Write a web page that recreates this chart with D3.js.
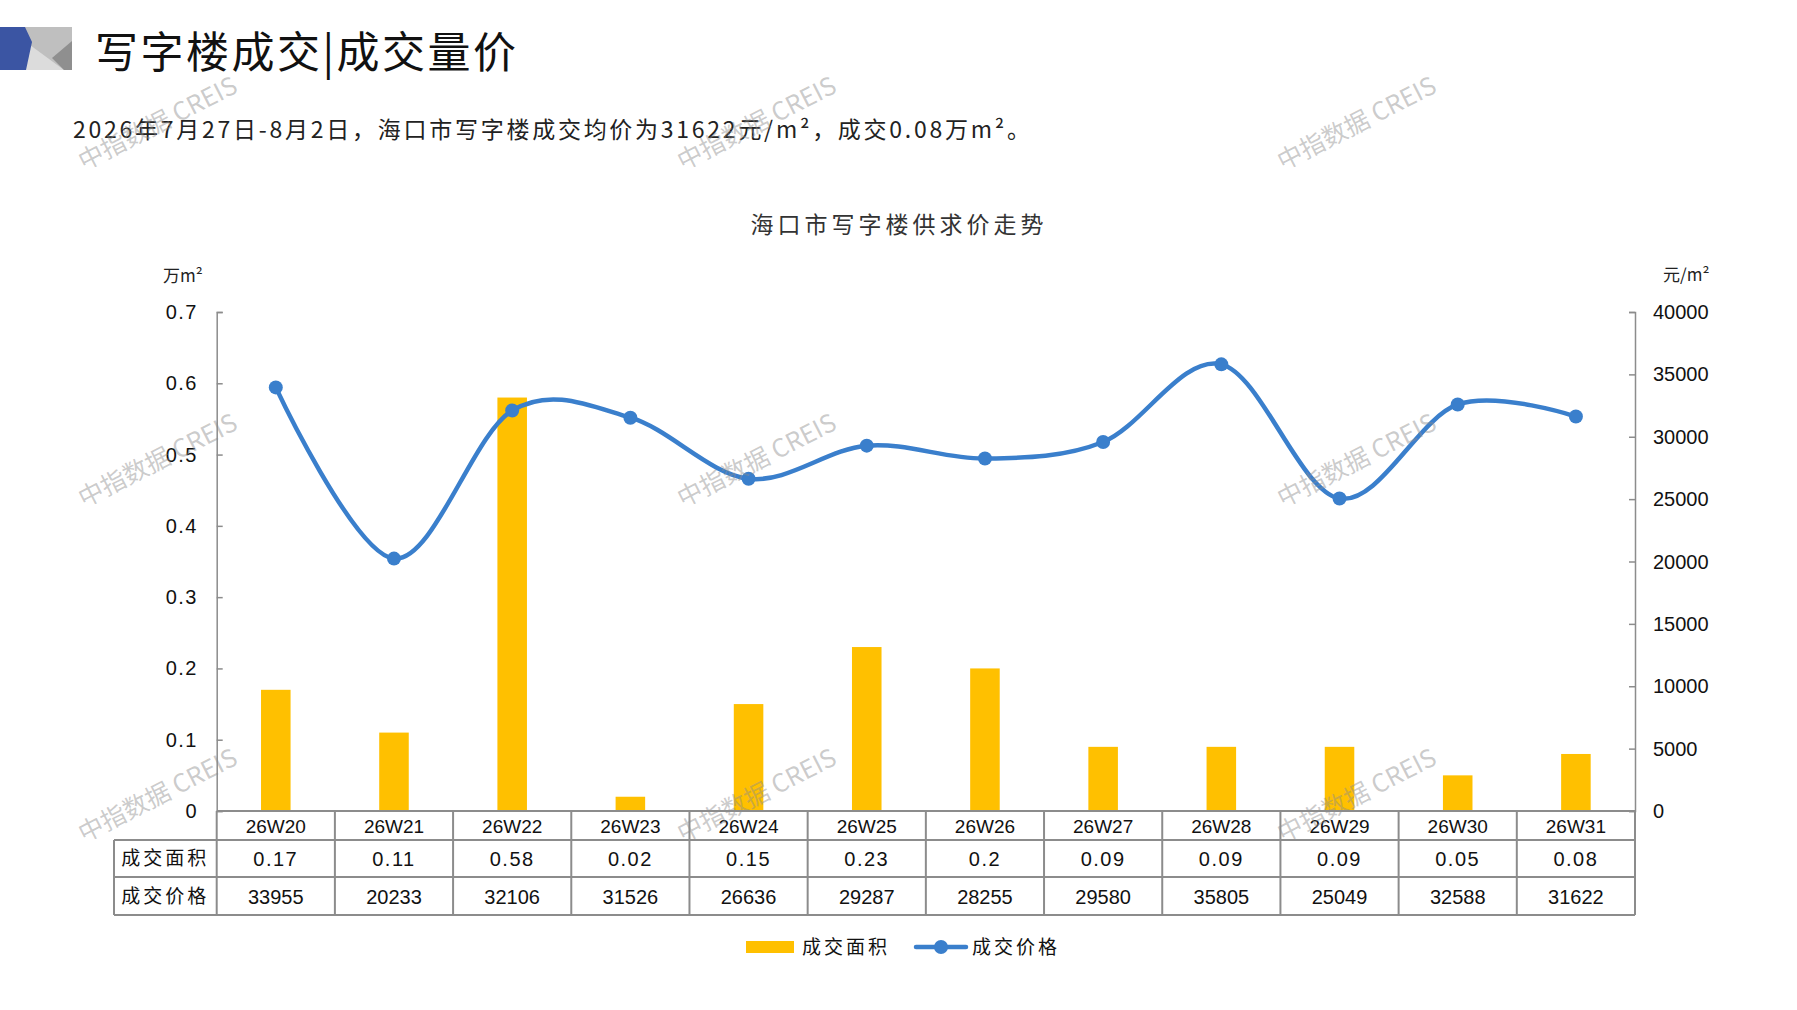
<!DOCTYPE html>
<html lang="zh">
<head>
<meta charset="utf-8">
<title>写字楼成交|成交量价</title>
<script src="https://cdn.jsdelivr.net/npm/d3@7"></script>
<style>
    html, body { margin: 0; padding: 0; background: #fff; }
    #chart { width: 1797px; height: 1010px; }
    text { font-family: "Noto Sans CJK SC", "Liberation Sans", sans-serif; }
    .num { font-family: "Liberation Sans", Arial, sans-serif; }
</style>
</head>
<body>
<div id="chart"></div>
<script>
// chart data
const weeks = ['26W20', '26W21', '26W22', '26W23', '26W24', '26W25', '26W26', '26W27', '26W28', '26W29', '26W30', '26W31'];
const areaValues = [0.17, 0.11, 0.58, 0.02, 0.15, 0.23, 0.2, 0.09, 0.09, 0.09, 0.05, 0.08];
const priceValues = [33955, 20233, 32106, 31526, 26636, 29287, 28255, 29580, 35805, 25049, 32588, 31622];
const areaTicks = [0, 0.1, 0.2, 0.3, 0.4, 0.5, 0.6, 0.7];
const priceTicks = [0, 5000, 10000, 15000, 20000, 25000, 30000, 35000, 40000];
const seriesNames = ['成交面积', '成交价格'];

document.addEventListener('DOMContentLoaded', () => {
    const W = 1797, H = 1010;
    const barColor = '#FFC000';
    const lineColor = '#3A7FCC';
    const gridGrey = '#8c8c8c';

    const svg = d3.select('#chart')
        .append('svg')
        .attr('width', W)
        .attr('height', H)
        .attr('viewBox', `0 0 ${W} ${H}`);

    // page header logo
    const logo = svg.append('g');
    logo.append('rect').attr('x', 0).attr('y', 27).attr('width', 72).attr('height', 43).attr('fill', '#bfbfbf');
    logo.append('polygon').attr('points', '30,45 64,70 25,70').attr('fill', '#dcdcdc');
    logo.append('polygon').attr('points', '52,58 72,41 72,70 64,70').attr('fill', '#8f8f8f');
    logo.append('polygon').attr('points', '0,27 25,27 32,42 26,70 0,70').attr('fill', '#3B55A3');

    svg.append('text')
        .attr('x', 95).attr('y', 68)
        .attr('font-size', 43)
        .attr('letter-spacing', 2.5)
        .attr('fill', '#111')
        .text('写字楼成交|成交量价');

    svg.append('text')
        .attr('x', 73).attr('y', 138)
        .attr('font-size', 23)
        .attr('fill', '#222')
        .attr('textLength', 957)
        .attr('lengthAdjust', 'spacing')
        .text('2026年7月27日-8月2日，海口市写字楼成交均价为31622元/m²，成交0.08万m²。');

    // chart title
    svg.append('text')
        .attr('x', 899).attr('y', 233)
        .attr('text-anchor', 'middle')
        .attr('font-size', 23)
        .attr('letter-spacing', 4)
        .attr('fill', '#333')
        .text('海口市写字楼供求价走势');

    // scales
    const x = d3.scaleBand().domain(weeks).range([216.7, 1635]).padding(0);
    const yArea = d3.scaleLinear().domain([0, 0.7]).range([811, 312]);
    const yPrice = d3.scaleLinear().domain([0, 40000]).range([811, 312]);
    const bw = x.bandwidth();

    // axes
    const leftAxis = svg.append('g')
        .attr('transform', `translate(${x.range()[0]},0)`)
        .call(d3.axisRight(yArea).tickValues(areaTicks).tickSize(6).tickFormat(''));
    leftAxis.selectAll('path, line').attr('stroke', gridGrey).attr('stroke-width', 1.5);

    const rightAxis = svg.append('g')
        .attr('transform', `translate(${x.range()[1]},0)`)
        .call(d3.axisLeft(yPrice).tickValues(priceTicks).tickSize(6).tickFormat(''));
    rightAxis.selectAll('path, line').attr('stroke', gridGrey).attr('stroke-width', 1.5);

    svg.append('g').selectAll('text')
        .data(areaTicks)
        .join('text')
        .attr('class', 'num')
        .attr('x', 198)
        .attr('y', d => yArea(d) + 7)
        .attr('text-anchor', 'end')
        .attr('font-size', 20)
        .attr('letter-spacing', 1.5)
        .attr('fill', '#111')
        .text(d => d3.format('.1~f')(d));

    svg.append('g').selectAll('text')
        .data(priceTicks)
        .join('text')
        .attr('class', 'num')
        .attr('x', 1653)
        .attr('y', d => yPrice(d) + 7)
        .attr('font-size', 20)
        .attr('fill', '#111')
        .text(d => d);

    svg.append('text')
        .attr('x', 163).attr('y', 282)
        .attr('font-size', 17)
        .attr('fill', '#222')
        .text('万m²');

    svg.append('text')
        .attr('x', 1663).attr('y', 281)
        .attr('font-size', 17)
        .attr('fill', '#222')
        .text('元/m²');

    // bars
    svg.append('g').selectAll('rect')
        .data(weeks)
        .join('rect')
        .attr('x', d => x(d) + bw * 0.375)
        .attr('width', bw * 0.25)
        .attr('y', (d, i) => yArea(areaValues[i]))
        .attr('height', (d, i) => yArea(0) - yArea(areaValues[i]))
        .attr('fill', barColor);

    // smoothed price line
    const pts = weeks.map((w, i) => [x(w) + bw / 2, yPrice(priceValues[i])]);
    svg.append('path')
        .datum(pts)
        .attr('d', d3.line().curve(d3.curveCardinal.tension(0)))
        .attr('fill', 'none')
        .attr('stroke', lineColor)
        .attr('stroke-width', 4.5)
        .attr('stroke-linecap', 'round');

    svg.append('g').selectAll('circle')
        .data(pts)
        .join('circle')
        .attr('cx', d => d[0])
        .attr('cy', d => d[1])
        .attr('r', 7)
        .attr('fill', lineColor);

    // data table under the axis
    const table = svg.append('g');
    const rowTop = [811, 840, 877, 915];
    const tableLeft = 114;
    const x0 = x.range()[0], x1 = x.range()[1];

    const hLines = [
        [x0, x1, rowTop[0]],
        [tableLeft, x1, rowTop[1]],
        [tableLeft, x1, rowTop[2]],
        [tableLeft, x1, rowTop[3]]
    ];
    table.selectAll('line.h')
        .data(hLines)
        .join('line')
        .attr('class', 'h')
        .attr('x1', d => d[0]).attr('x2', d => d[1])
        .attr('y1', d => d[2]).attr('y2', d => d[2])
        .attr('stroke', gridGrey).attr('stroke-width', 2);

    const vLines = [[tableLeft, rowTop[1]]]
        .concat(weeks.map(w => [x(w), rowTop[0]]))
        .concat([[x1, rowTop[0]]]);
    table.selectAll('line.v')
        .data(vLines)
        .join('line')
        .attr('class', 'v')
        .attr('x1', d => d[0]).attr('x2', d => d[0])
        .attr('y1', d => d[1]).attr('y2', rowTop[3])
        .attr('stroke', gridGrey).attr('stroke-width', 2);

    table.selectAll('text.cat')
        .data(weeks)
        .join('text')
        .attr('class', 'cat num')
        .attr('x', d => x(d) + bw / 2)
        .attr('y', 833)
        .attr('text-anchor', 'middle')
        .attr('font-size', 19)
        .attr('fill', '#111')
        .text(d => d);

    table.selectAll('text.area')
        .data(areaValues)
        .join('text')
        .attr('class', 'area num')
        .attr('x', (d, i) => x(weeks[i]) + bw / 2)
        .attr('y', 866)
        .attr('text-anchor', 'middle')
        .attr('font-size', 20)
        .attr('letter-spacing', 1.5)
        .attr('fill', '#111')
        .text(d => d);

    table.selectAll('text.price')
        .data(priceValues)
        .join('text')
        .attr('class', 'price num')
        .attr('x', (d, i) => x(weeks[i]) + bw / 2)
        .attr('y', 904)
        .attr('text-anchor', 'middle')
        .attr('font-size', 20)
        .attr('fill', '#111')
        .text(d => d);

    table.selectAll('text.head')
        .data(seriesNames)
        .join('text')
        .attr('class', 'head')
        .attr('x', (tableLeft + x0) / 2)
        .attr('y', (d, i) => i === 0 ? 865 : 903)
        .attr('text-anchor', 'middle')
        .attr('font-size', 19)
        .attr('letter-spacing', 3)
        .attr('fill', '#111')
        .text(d => d);

    // legend
    const legend = svg.append('g');
    legend.append('rect')
        .attr('x', 746).attr('y', 941).attr('width', 48).attr('height', 12)
        .attr('fill', barColor);
    legend.append('text')
        .attr('x', 802).attr('y', 954)
        .attr('font-size', 19).attr('letter-spacing', 3).attr('fill', '#111')
        .text(seriesNames[0]);
    legend.append('line')
        .attr('x1', 916).attr('x2', 966).attr('y1', 947).attr('y2', 947)
        .attr('stroke', lineColor).attr('stroke-width', 4.5).attr('stroke-linecap', 'round');
    legend.append('circle')
        .attr('cx', 941).attr('cy', 947).attr('r', 7).attr('fill', lineColor);
    legend.append('text')
        .attr('x', 972).attr('y', 954)
        .attr('font-size', 19).attr('letter-spacing', 3).attr('fill', '#111')
        .text(seriesNames[1]);

    // watermarks
    const markX = [158, 757, 1357];
    const markY = [124, 461, 796];
    const marks = [];
    markY.forEach(my => markX.forEach(mx => marks.push([mx, my])));
    svg.append('g').selectAll('text')
        .data(marks)
        .join('text')
        .attr('transform', d => `translate(${d[0]},${d[1]}) rotate(-27)`)
        .attr('text-anchor', 'middle')
        .attr('dy', 8)
        .attr('font-size', 25)
        .attr('fill', 'rgba(140,140,140,0.45)')
        .text('中指数据 CREIS');
});
</script>
</body>
</html>
